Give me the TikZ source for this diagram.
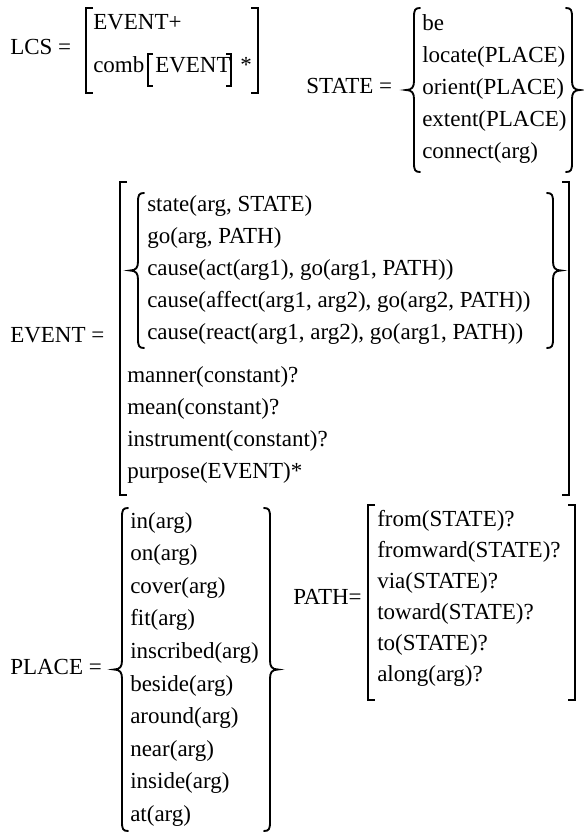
\documentclass[tikz,border=0pt]{standalone}
\usepackage{fontspec}
\setmainfont{Liberation Serif}
\usepackage{tikz}

\begin{document}
\begin{tikzpicture}[x=0.75pt,y=-0.75pt,font=\fontsize{17.25}{20}\selectfont]
    % Define item, bracket and brace styles
    \tikzset{item/.style={anchor=west,inner sep=0pt,text height=0.75em,text depth=0.15em},
             brk/.style={line width=1.2pt},
             curly/.style={line width=1.4pt,line cap=round},
             pics/lbrack/.style={code={\draw[brk] (7,-#1) -- (0,-#1) -- (0,#1) -- (7,#1);}},
             pics/sbrack/.style={code={\draw[brk,line width=1pt] (5,-#1) -- (0,-#1) -- (0,#1) -- (5,#1);}},
             pics/lcurly/.style={code={\draw[curly] (6,-#1) .. controls (1,-#1) and (0,-#1+2) .. (0,-#1+9)
                 -- (0,-9) .. controls (0,-3) and (-2,0) .. (-8,0) .. controls (-2,0) and (0,3) .. (0,9)
                 -- (0,#1-9) .. controls (0,#1-2) and (1,#1) .. (6,#1);}}}

    \useasboundingbox (0,0) rectangle (584,832);

    % LCS
    \node[item] (lcs) at (10,50) {LCS =};
    \pic at (86,50.5) {lbrack=42.5};
    \pic[xscale=-1] at (258,50.5) {lbrack=42.5};
    \node[item] (lcs-1) at (93,25) {EVENT+};
    \node[item] (lcs-2) at (93,68) {comb};
    \pic at (148,70) {sbrack=16};
    \node[item] (comb-arg) at (155,68) {EVENT};
    \pic[xscale=-1] at (231,70) {sbrack=16};
    \node[item] (comb-rep) at (240,68) {*};

    % STATE
    \node[item] (state) at (306,89) {STATE =};
    \pic at (414,90) {lcurly=82};
    \foreach \t [count=\i] in {be, locate(PLACE), orient(PLACE), extent(PLACE), connect(arg)}
        \node[item] (state-\i) at (422,{26+32*(\i-1)}) {\t};
    \pic[xscale=-1] at (572,90) {lcurly=82};

    % EVENT
    \node[item] (event) at (10,338) {EVENT =};
    \pic at (120,338.5) {lbrack=156.5};
    \pic[xscale=-1] at (569,338.5) {lbrack=156.5};
    \pic at (138,270.5) {lcurly=77.5};
    \foreach \t [count=\i] in {{state(arg, STATE)}, {go(arg, PATH)}, {cause(act(arg1), go(arg1, PATH))},
                               {cause(affect(arg1, arg2), go(arg2, PATH))}, {cause(react(arg1, arg2), go(arg1, PATH))}}
        \node[item] (event-\i) at (147,{207+32*(\i-1)}) {\t};
    \pic[xscale=-1] at (553,270.5) {lcurly=77.5};
    \foreach \t [count=\i] in {manner(constant)?, mean(constant)?, instrument(constant)?, purpose(EVENT)*}
        \node[item] (mod-\i) at (127,{378+32.3*(\i-1)}) {\t};

    % PLACE
    \node[item] (place) at (10,670) {PLACE =};
    \pic at (122,669.5) {lcurly=161.5};
    \foreach \t [count=\i] in {in(arg), on(arg), cover(arg), fit(arg), inscribed(arg),
                               beside(arg), around(arg), near(arg), inside(arg), at(arg)}
        \node[item] (place-\i) at (130,{524+32.6*(\i-1)}) {\t};
    \pic[xscale=-1] at (270,669.5) {lcurly=161.5};

    % PATH
    \node[item] (path) at (293,600) {PATH=};
    \pic at (368,602.5) {lbrack=97.5};
    \pic[xscale=-1] at (575,602.5) {lbrack=97.5};
    \foreach \t [count=\i] in {from(STATE)?, fromward(STATE)?, via(STATE)?, toward(STATE)?, to(STATE)?, along(arg)?}
        \node[item] (path-\i) at (377,{522+31*(\i-1)}) {\t};
\end{tikzpicture}
\end{document}
